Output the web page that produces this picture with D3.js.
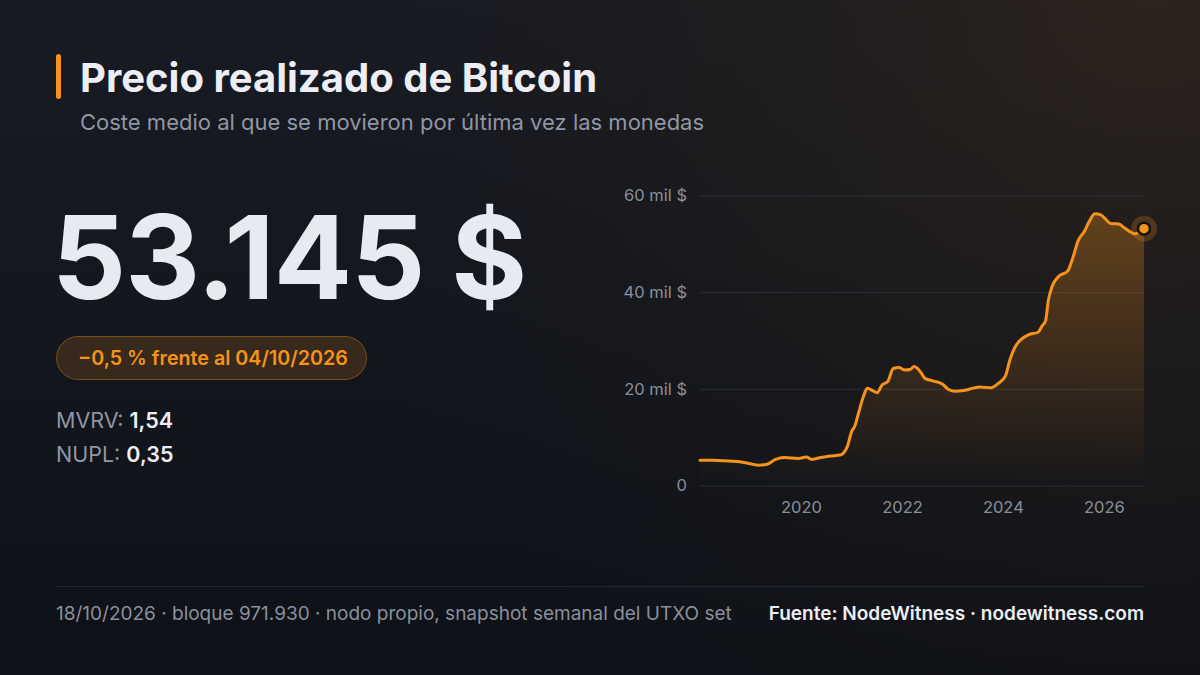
<!DOCTYPE html>
<html><head><meta charset="utf-8">
<script src="https://cdn.jsdelivr.net/npm/d3@7/dist/d3.min.js"></script>
<style>html,body{margin:0;padding:0;background:#11141a;}svg{display:block;font-family:Inter,"Noto Sans",sans-serif;}</style>
</head><body>
<svg id="c" width="1200" height="675"></svg>
<script>
const dates = ["2018-01-01","2018-04-01","2018-07-01","2018-10-15","2019-01-01","2019-03-01","2019-05-01","2019-07-01","2019-09-01","2019-12-15","2020-02-10","2020-03-20","2020-05-25","2020-08-01","2020-10-10","2020-12-01","2021-01-01","2021-01-25","2021-02-20","2021-03-28","2021-04-25","2021-06-05","2021-07-05","2021-08-10","2021-09-20","2021-10-30","2021-12-10","2022-01-20","2022-03-01","2022-03-30","2022-05-20","2022-06-15","2022-08-05","2022-10-20","2022-12-01","2023-01-15","2023-04-01","2023-05-25","2023-07-15","2023-10-05","2023-11-28","2024-01-20","2024-02-20","2024-03-28","2024-05-15","2024-07-05","2024-09-12","2024-10-10","2024-11-05","2024-11-25","2024-12-20","2025-02-05","2025-04-15","2025-05-22","2025-06-28","2025-08-15","2025-09-20","2025-10-28","2025-12-10","2026-01-10","2026-02-18","2026-04-20","2026-05-25","2026-08-15","2026-10-18"];
const realized = [5.2,5.2,5.1,4.9,4.5,4.2,4.4,5.4,5.8,5.6,5.9,5.4,5.8,6.1,6.3,8.0,11.1,12.3,14.9,18.4,20.1,19.6,19.2,20.8,21.5,24.2,24.4,23.9,24.0,24.6,23.3,22.2,21.7,21.0,19.9,19.5,19.7,20.1,20.4,20.2,21.1,22.7,25.9,28.6,30.3,31.2,31.7,33.0,34.1,38.3,41.0,43.2,44.4,47.2,50.6,52.7,54.8,56.2,56.0,55.2,54.2,54.1,53.4,52.1,53.145];
const yTicks = [0,20,40,60];
const yTickLabels = ["0","20 mil $","40 mil $","60 mil $"];
const xTickYears = [2020,2022,2024,2026];
const title = "Precio realizado de Bitcoin";
const subtitle = "Coste medio al que se movieron por última vez las monedas";
const bigValue = "53.145 $";
const badgeText = "\u22120,5 % frente al 04/10/2026";
const stats = [["MVRV:","1,54"],["NUPL:","0,35"]];
const footLeft = "18/10/2026 · bloque 971.930 · nodo propio, snapshot semanal del UTXO set";
const footRight = "Fuente: NodeWitness · nodewitness.com";

const ORANGE = "#f7931a";
const svg = d3.select("#c");
const defs = svg.append("defs");

const bg = defs.append("linearGradient").attr("id","bg").attr("x1",0).attr("y1",0).attr("x2",0).attr("y2",1);
bg.append("stop").attr("offset","0%").attr("stop-color","#181b23");
bg.append("stop").attr("offset","100%").attr("stop-color","#0e1117");
const glow = defs.append("radialGradient").attr("id","glow").attr("gradientUnits","userSpaceOnUse")
  .attr("cx",1150).attr("cy",0).attr("r",850);
glow.append("stop").attr("offset","0%").attr("stop-color","#35271b").attr("stop-opacity",0.7);
glow.append("stop").attr("offset","50%").attr("stop-color","#2a2018").attr("stop-opacity",0.35);
glow.append("stop").attr("offset","100%").attr("stop-color","#1a1a1a").attr("stop-opacity",0);

svg.append("rect").attr("width",1200).attr("height",675).attr("fill","url(#bg)");
svg.append("rect").attr("width",1200).attr("height",675).attr("fill","url(#glow)");

// header
svg.append("rect").attr("x",56).attr("y",54).attr("width",5).attr("height",45).attr("rx",2.5).attr("fill",ORANGE);
svg.append("text").attr("x",80).attr("y",92).attr("fill","#eceef4").attr("font-size",40).attr("font-weight",700).text(title);
svg.append("text").attr("x",80).attr("y",130).attr("fill","#9096a3").attr("font-size",22).text(subtitle);

// big number
svg.append("text").attr("x",52).attr("y",299).attr("fill","#e8eaf2").attr("font-size",116).attr("font-weight",700).attr("letter-spacing",-0.8).text(bigValue);

// badge
svg.append("rect").attr("x",56.5).attr("y",336.5).attr("width",310).attr("height",43).attr("rx",21.5)
  .attr("fill",ORANGE).attr("fill-opacity",0.16).attr("stroke",ORANGE).attr("stroke-opacity",0.4);
svg.append("text").attr("x",78).attr("y",365).attr("fill",ORANGE).attr("font-size",19.7).attr("font-weight",600).text(badgeText);

// stats
stats.forEach((s,i)=>{
  const t = svg.append("text").attr("x",56).attr("y",428+i*34).attr("font-size",21.5);
  t.append("tspan").attr("fill","#9096a3").text(s[0]+" ");
  t.append("tspan").attr("fill","#eceef4").attr("font-weight",600).text(s[1]);
});

// chart
const data = dates.map((d,i)=>({date:new Date(d+"T00:00:00"),v:realized[i]}));
const x = d3.scaleTime().domain([new Date("2018-01-01T00:00:00"),new Date("2026-10-18T00:00:00")]).range([700,1144]);
const y = d3.scaleLinear().domain([0,60]).range([485.5,195.5]);

const ag = defs.append("linearGradient").attr("id","area").attr("gradientUnits","userSpaceOnUse")
  .attr("x1",0).attr("y1",y(60)).attr("x2",0).attr("y2",y(0));
ag.append("stop").attr("offset","0%").attr("stop-color",ORANGE).attr("stop-opacity",0.32);
ag.append("stop").attr("offset","100%").attr("stop-color",ORANGE).attr("stop-opacity",0);

const gy = svg.append("g").attr("transform","translate(700,0)")
  .call(d3.axisLeft(y).tickValues(yTicks).tickSize(-444).tickPadding(13).tickFormat((d,i)=>yTickLabels[i]));
gy.select(".domain").remove();
gy.selectAll(".tick line").attr("stroke","#2a2e38").attr("stroke-width",1);
gy.selectAll(".tick text").attr("fill","#8a8f9b").attr("font-size",16.5).attr("font-family","Inter,sans-serif");

const gx = svg.append("g").attr("transform","translate(0,485.5)")
  .call(d3.axisBottom(x).tickValues(xTickYears.map(yr=>new Date(yr+"-01-01T00:00:00"))).tickSize(0).tickPadding(16).tickFormat(d3.timeFormat("%Y")));
gx.select(".domain").remove();
gx.selectAll(".tick text").attr("fill","#8a8f9b").attr("font-size",16.5).attr("font-family","Inter,sans-serif");

const curve = d3.curveMonotoneX;
svg.append("path").datum(data).attr("fill","url(#area)")
  .attr("d",d3.area().x(d=>x(d.date)).y0(y(0)).y1(d=>y(d.v)).curve(curve));
svg.append("path").datum(data).attr("fill","none").attr("stroke",ORANGE).attr("stroke-width",3)
  .attr("stroke-linejoin","round").attr("stroke-linecap","round")
  .attr("d",d3.line().x(d=>x(d.date)).y(d=>y(d.v)).curve(curve));

const last = data[data.length-1];
svg.append("circle").attr("cx",x(last.date)).attr("cy",y(last.v)).attr("r",13).attr("fill",ORANGE).attr("fill-opacity",0.22);
svg.append("circle").attr("cx",x(last.date)).attr("cy",y(last.v)).attr("r",6).attr("fill",ORANGE).attr("stroke","#111318").attr("stroke-width",2.5);

// footer
svg.append("line").attr("x1",56).attr("x2",1144).attr("y1",586.5).attr("y2",586.5).attr("stroke","#23262e");
svg.append("text").attr("x",56).attr("y",620).attr("fill","#8a8f9b").attr("font-size",19).text(footLeft);
svg.append("text").attr("x",1144).attr("y",620).attr("text-anchor","end").attr("fill","#eceef4").attr("font-size",19).attr("font-weight",600).text(footRight);
</script>
</body></html>
